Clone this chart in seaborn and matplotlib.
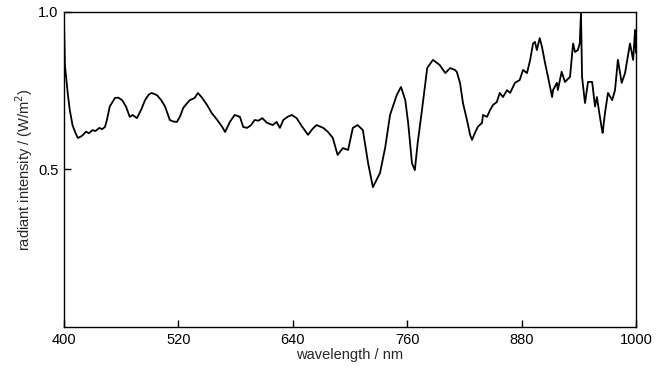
import matplotlib
matplotlib.use("Agg")
import matplotlib.pyplot as plt
import seaborn as sns
import pandas as pd

wavelength = [400, 401, 404, 406, 409, 411.5, 414.5, 418, 420, 423, 426, 430, 433, 437, 440, 443,
              445, 448, 453.5, 457, 461, 465, 469, 472, 476.5, 481, 485, 489, 492, 497.5,
              502, 506, 511, 515, 518.5, 522, 525, 529, 532, 537, 540.5, 545, 550, 555,
              560, 566, 569, 574, 579, 584.5, 588, 592, 596, 600, 604, 608, 613, 619, 623,
              626.5, 630, 635, 639, 644, 650, 656, 661, 665, 672, 677, 682, 687, 692.5,
              698, 703, 708, 713.5, 719, 724, 731.5, 737, 742, 749, 753.5, 758, 761, 765,
              768, 771, 775.5, 781, 787, 794, 800, 805, 810, 812, 815.4, 818.5, 822.7, 826,
              828, 831, 834, 838.5, 839.5, 843.7, 847, 850, 854, 857, 860.5, 864.7, 868,
              873, 878, 881.5, 885.7, 889, 892, 894, 896, 899, 901.4, 904.6, 907.7, 912,
              913, 917, 918, 922, 925.5, 930.8, 934, 936, 939, 941, 942.3, 943.4, 946.5,
              949.7, 954, 957, 959, 961, 964, 965, 967.5, 970.6, 975, 978, 981, 985, 988.5,
              993.7, 997, 999, 1000]
intensity = [0.97, 0.83, 0.74, 0.69, 0.64, 0.62, 0.60, 0.605, 0.61, 0.62, 0.615, 0.625, 0.622, 0.632, 0.628, 0.635,
             0.657, 0.70, 0.727, 0.728, 0.72, 0.70, 0.667, 0.673, 0.663, 0.69, 0.72, 0.738, 0.743, 0.736,
             0.72, 0.70, 0.657, 0.652, 0.651, 0.67, 0.695, 0.71, 0.72, 0.727, 0.743, 0.727, 0.705, 0.679,
             0.66, 0.635, 0.619, 0.651, 0.673, 0.667, 0.635, 0.632, 0.64, 0.657, 0.655, 0.663, 0.648, 0.641, 0.651,
             0.632, 0.657, 0.668, 0.673, 0.663, 0.635, 0.61, 0.63, 0.641, 0.632, 0.619, 0.60, 0.546, 0.568,
             0.562, 0.632, 0.641, 0.625, 0.52, 0.444, 0.489, 0.571, 0.673, 0.736, 0.762, 0.72, 0.648, 0.52,
             0.498, 0.584, 0.689, 0.822, 0.848, 0.832, 0.806, 0.822, 0.816, 0.81, 0.775, 0.711, 0.657, 0.61,
             0.594, 0.616, 0.635, 0.648, 0.673, 0.667, 0.689, 0.705, 0.714, 0.743, 0.73, 0.752, 0.743,
             0.775, 0.784, 0.816, 0.806, 0.848, 0.90, 0.905, 0.879, 0.917, 0.889, 0.838, 0.794, 0.73,
             0.752, 0.775, 0.752, 0.81, 0.778, 0.794, 0.90, 0.873, 0.879, 0.90, 1.0, 0.794, 0.711,
             0.778, 0.778, 0.70, 0.73, 0.689, 0.632, 0.616, 0.68, 0.743, 0.72, 0.752, 0.848, 0.775, 0.806,
             0.90, 0.848, 0.943, 0.87]

x_ticks = [400, 520, 640, 760, 880, 1000]
y_ticks = [0.5, 1.0]
y_tick_labels = ["0.5", "1.0"]

sns.set_theme(style="ticks")
plt.rcParams['font.family'] = ['Liberation Sans', 'DejaVu Sans']

df = pd.DataFrame({"wavelength": wavelength, "intensity": intensity})

fig = plt.figure(figsize=(6.59, 3.74), dpi=100)
ax = fig.add_axes([0.0971, 0.1257, 0.868, 0.8423])
sns.lineplot(data=df, x="wavelength", y="intensity", ax=ax, color="black", linewidth=1.3)

ax.set_xlim(400, 1000)
ax.set_ylim(0, 1.0)
ax.set_xticks(x_ticks)
ax.set_xticklabels([str(t) for t in x_ticks])
ax.set_yticks(y_ticks)
ax.set_yticklabels(y_tick_labels)
ax.tick_params(direction="in", length=5, width=1, labelsize=10.5, colors="black", pad=4)
for s in ax.spines.values():
    s.set_visible(True)
    s.set_color("black")
    s.set_linewidth(1.0)
ax.set_xlabel("wavelength / nm", fontsize=10.5, labelpad=1)
ax.set_ylabel("radiant intensity / (W/m$^2$)", fontsize=10.5, labelpad=2)

fig.savefig("out.png", dpi=100)
